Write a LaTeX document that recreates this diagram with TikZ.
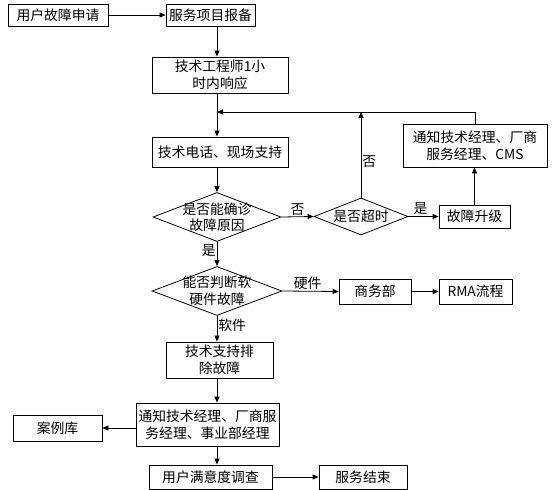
\documentclass[tikz,border=0pt]{standalone}
\usepackage{fontspec}
\setmainfont{Noto Sans CJK SC}
\usetikzlibrary{arrows.meta, shapes.geometric}

\begin{document}
\begin{tikzpicture}[
		x=1pt, y=-1pt,
		font=\fontsize{13.8}{16.5}\selectfont,
		box/.style={draw, line width=0.8pt, align=center, inner sep=0pt},
		dia/.style={draw, diamond, aspect=2.6, line width=0.8pt, align=center, inner sep=-4pt},
		arr/.style={-{Triangle[length=6pt, width=5pt]}, line width=0.8pt},
		lab/.style={inner sep=1pt}
		]
		
		\useasboundingbox (0,0) rectangle (555,490);
		
		% Main column
		\coordinate (col) at (217,0);
		\coordinate (back) at (217,112);
		
		% Request
		\node[box, minimum width=100pt, minimum height=22pt] (req) at (58,15) {用户故障申请};
		\node[box, minimum width=89pt, minimum height=22pt] (report) at (210.5,15) {服务项目报备};
		\node[box, minimum width=136pt, minimum height=36pt] (resp) at (220,75) {技术工程师1小\\时内响应};
		
		% Support and diagnosis
		\node[box, minimum width=136pt, minimum height=30pt] (support) at (220,152) {技术电话、现场支持};
		\node[dia, minimum width=128pt, minimum height=49pt] (diag) at (217,217) {是否能确诊\\故障原因};
		\node[dia, minimum width=94pt, minimum height=37pt] (timeout) at (361,216.5) {是否超时};
		\node[box, minimum width=71pt, minimum height=23pt] (escal) at (474.5,216.5) {故障升级};
		\node[box, minimum width=144pt, minimum height=43pt] (notifya) at (475,145.5) {通知技术经理、厂商\\服务经理、CMS};
		
		% Hardware / software
		\node[dia, minimum width=130pt, minimum height=49pt] (hwsw) at (217,291) {能否判断软\\硬件故障};
		\node[box, minimum width=72pt, minimum height=25pt] (biz) at (375,291.5) {商务部};
		\node[box, minimum width=73pt, minimum height=25pt] (rma) at (475.5,291.5) {RMA流程};
		\node[box, minimum width=107pt, minimum height=36pt] (fix) at (219.5,360) {技术支持排\\除故障};
		
		% Closing
		\node[box, minimum width=143pt, minimum height=43pt] (notifyb) at (207.5,424.5) {通知技术经理、厂商服\\务经理、事业部经理};
		\node[box, minimum width=89pt, minimum height=26pt] (cases) at (57.5,428) {案例库};
		\node[box, minimum width=123pt, minimum height=24pt] (survey) at (210.5,477) {用户满意度调查};
		\node[box, minimum width=88pt, minimum height=24pt] (done) at (363,477) {服务结束};
		
		% Connectors
		\draw[arr] (req.east) -- (report.west);
		\draw[arr] (report.south -| col) -- (resp.north -| col);
		\draw[arr] (resp.south -| col) -- (support.north -| col);
		\draw[arr] (support.south -| col) -- (diag.north);
		\draw[arr] (diag.east) -- (timeout.west) node[lab, above, pos=0.5] {否};
		\draw[arr] (timeout.east) -- (escal.west) node[lab, above, pos=0.4] {是};
		\draw[arr] (escal.north) -- (escal.north |- notifya.south);
		\draw[arr] (notifya.north) |- (back);
		\draw[arr] (timeout.north) -- (timeout.north |- back) node[lab, right, pos=0.42] {否};
		\draw[arr] (diag.south) -- (hwsw.north) node[lab, left, pos=0.34] {是};
		\draw[arr] (hwsw.east) -- (biz.west) node[lab, above, pos=0.45] {硬件};
		\draw[arr] (biz.east) -- (rma.west);
		\draw[arr] (hwsw.south) -- (fix.north -| col) node[lab, right, pos=0.35] {软件};
		\draw[arr] (fix.south -| col) -- (notifyb.north -| col);
		\draw[arr] (notifyb.west |- cases) -- (cases.east);
		\draw[arr] (notifyb.south -| col) -- (survey.north -| col);
		\draw[arr] (survey.east) -- (done.west);
		
	\end{tikzpicture}
\end{document}
